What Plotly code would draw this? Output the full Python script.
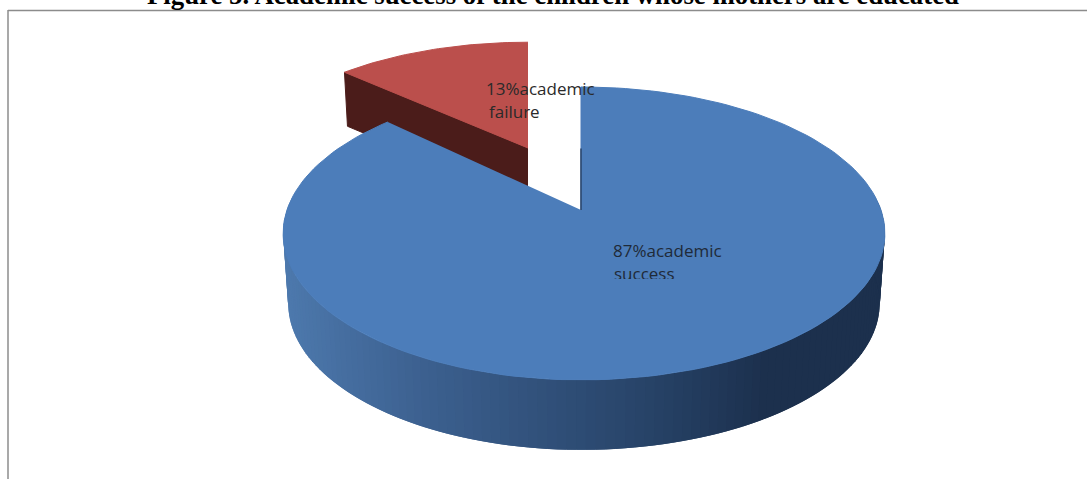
import numpy as np
import plotly.graph_objects as go

labels = ['academic success', 'academic failure']
values = [87, 13]
slice_text = ['87%academic<br>success', '13%academic<br>failure']

title_text = 'Figure 5. Academic success of the children whose mothers are educated'

BLUE_TOP = '#4c7dba'
RED_TOP = '#bb4f4c'
RED_SIDE = '#4b1c1a'
SIDE_STOPS = [(283, (78, 122, 174)), (440, (60, 96, 143)), (660, (40, 68, 105)), (780, (28, 48, 77)), (885, (28, 48, 77))]

# perspective pie: apex position, radii, tilt and thickness
APEX_X, APEX_Y = 581, 210
RX, RY, PERSP = 297, 142.7, 0.16
LEFT_STRETCH, RIGHT_STRETCH = 0.99, 1.01
DEPTH = 70
BOTTOM_SCALE = 0.983


def rim(t, apex_x=APEX_X, apex_y=APEX_Y, sx=1.0, sy=1.0):
    # t is clockwise from 12 o'clock, in radians
    u, v = np.sin(t), np.cos(t)
    w = 1 + PERSP * v
    stretch = np.where(u < 0, LEFT_STRETCH, RIGHT_STRETCH)
    return apex_x + sx * RX * stretch * u / w, apex_y - sy * RY * v / w


def side_color(x):
    xs = [s[0] for s in SIDE_STOPS]
    rgb = [np.interp(x, xs, [s[1][i] for s in SIDE_STOPS]) for i in range(3)]
    return 'rgb(%d,%d,%d)' % tuple(rgb)


fig = go.Figure()


def add_poly(xs, ys, color, width=1):
    fig.add_trace(go.Scatter(
        x=list(xs), y=list(ys), mode='lines', fill='toself', fillcolor=color,
        line=dict(color=color, width=width), hoverinfo='skip', showlegend=False
    ))


def add_label(x, y, text, color):
    fig.add_trace(go.Scatter(
        x=[x], y=[y], mode='text', text=[text], textposition='middle right',
        textfont=dict(family='Open Sans', size=17, color=color),
        hoverinfo='skip', showlegend=False
    ))


# failure slice, pulled out towards the back
total = sum(values)
split = 2 * np.pi * values[0] / total
red_t = np.linspace(split, 2 * np.pi, 40)
red_ax, red_ay, red_sx, red_sy = 528, 148, 0.95, 0.86
rx_pts, ry_pts = rim(red_t, red_ax, red_ay, red_sx, red_sy)
add_poly([red_ax, rx_pts[0], rx_pts[0] + 3, red_ax], [red_ay, ry_pts[0], ry_pts[0] + 54, red_ay + 54], RED_SIDE)
add_poly(np.r_[red_ax, rx_pts], np.r_[red_ay, ry_pts], RED_TOP)

# blue wall, strips overlap the next one so no seams show in the shading
wall_t = np.linspace(np.pi * 0.47, np.pi * 1.53, 120)
for i in range(len(wall_t) - 2, -1, -1):
    x0, y0 = rim(wall_t[i])
    x1, y1 = rim(wall_t[min(i + 2, len(wall_t) - 1)])
    xb0 = APEX_X + (x0 - APEX_X) * BOTTOM_SCALE
    xb1 = APEX_X + (x1 - APEX_X) * BOTTOM_SCALE
    add_poly([x0, x1, xb1, xb0], [y0, y1, y1 + DEPTH, y0 + DEPTH], side_color(x0), width=0)

# success slice top face
blue_t = np.linspace(0, split, 160)
bx_pts, by_pts = rim(blue_t)
add_poly(np.r_[APEX_X, bx_pts], np.r_[APEX_Y, by_pts], BLUE_TOP)

# dark sliver of the inner cut face
sx_pts, sy_pts = rim(np.array([0.0]))
fig.add_trace(go.Scatter(
    x=[APEX_X, APEX_X], y=[APEX_Y, APEX_Y - (APEX_Y - sy_pts[0]) * 0.5],
    mode='lines', line=dict(color='#2a4468', width=1.5), hoverinfo='skip', showlegend=False
))

# slice labels
success_lines = slice_text[0].split('<br>')
failure_lines = slice_text[1].split('<br>')
add_label(613, 253, success_lines[0], '#1f2a38')
add_label(614, 276, success_lines[1], '#1f2a38')
add_label(486, 91, failure_lines[0], '#2a2a2a')
add_label(489, 114, failure_lines[1], '#2a2a2a')

fig.update_layout(
    width=1087,
    height=479,
    margin=dict(l=0, r=0, t=0, b=0),
    paper_bgcolor='white',
    plot_bgcolor='white',
    showlegend=False,
    xaxis=dict(range=[0, 1087], visible=False, fixedrange=True),
    yaxis=dict(range=[479, 0], visible=False, fixedrange=True),
    shapes=[
        # frame of the pasted picture
        dict(type='line', x0=8, x1=1087, y0=10.5, y1=10.5, line=dict(color='#8c8c8c', width=1.5)),
        dict(type='line', x0=8, x1=8, y0=10, y1=479, line=dict(color='#8c8c8c', width=1.5)),
        # the lower label is cut off in the source
        dict(type='rect', x0=605, x1=700, y0=279, y1=292, fillcolor=BLUE_TOP, line=dict(width=0)),
    ],
    annotations=[dict(
        x=553, y=1, xref='x', yref='paper', yanchor='bottom', yshift=-12,
        text='<b>' + title_text + '</b>', showarrow=False,
        font=dict(family='Liberation Serif', size=26.8, color='black')
    )]
)

fig.write_html("out.html", config=dict(displayModeBar=False), post_script="document.body.style.margin='0';")
